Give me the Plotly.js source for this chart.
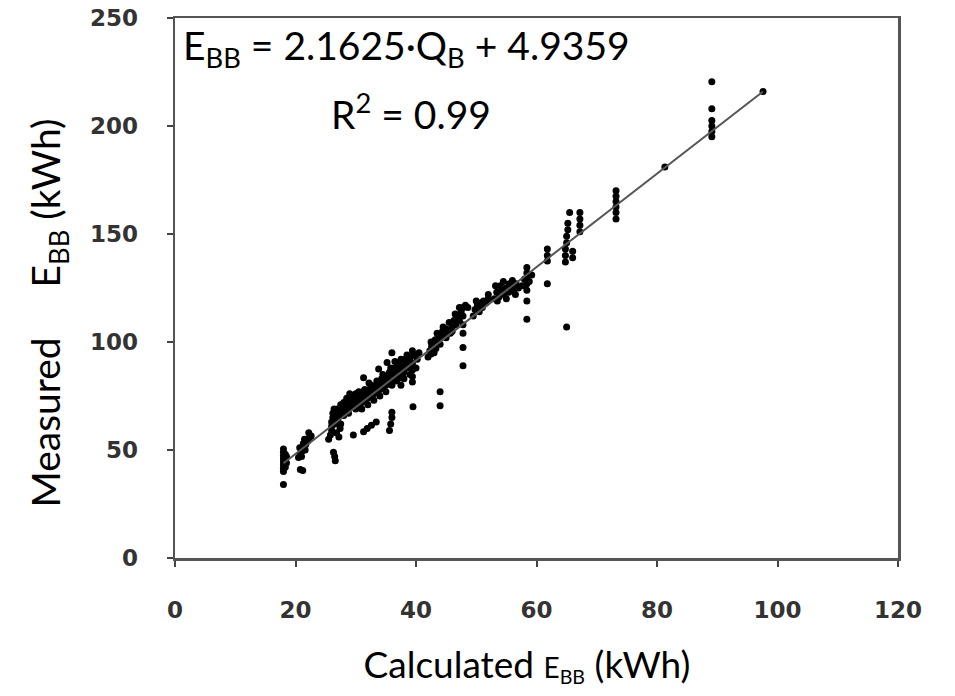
<!DOCTYPE html>
<html>
<head>
<meta charset="utf-8">
<script src="https://cdn.plot.ly/plotly-3.0.1.min.js"></script>
<style>html,body{margin:0;padding:0;background:#fff}#chart{width:955px;height:696px}</style>
</head>
<body>
<div id="chart"></div>
<script>
// Calculated E_BB (kWh)
const calcX = [
 18.0,18.0,18.0,18.0,18.0,18.0,18.0,18.0,18.3,18.3,18.3,18.0,18.5,18.5,
 20.5,20.8,21.1,21.4,21.7,22.0,22.3,22.6,21.0,21.6,20.8,21.2,21.5,22.2,20.7,21.3,
 25.5,25.8,26.0,26.0,26.0,26.2,26.2,26.4,26.6,26.8,27.0,27.2,27.5,27.5,27.8,28.0,28.3,28.6,28.8,29.0,29.3,29.6,26.3,26.6,26.5,27.2,27.4,
 28.0,28.5,29.0,27.5,27.0,26.5,29.5,30.0,
 30.0,30.0,30.3,30.6,31.0,31.0,31.4,31.7,32.0,32.0,32.3,32.7,33.0,33.0,33.4,33.7,34.0,34.0,34.3,34.6,35.0,35.0,31.3,33.8,35.2,36.0,32.2,30.5,
 31.5,32.5,33.5,34.5,33.0,34.0,35.0,32.0,31.0,
 27.3,27.8,28.2,28.7,29.2,29.8,30.3,30.8,31.2,31.8,32.3,32.8,33.3,33.8,34.3,34.8,35.5,36.3,37.3,38.3,39.0,36.7,35.8,37.8,
 29.6,31.3,31.9,32.6,33.4,35.6,35.8,36.0,36.0,39.5,44.0,44.0,
 35.3,35.6,35.9,36.2,36.5,36.8,37.0,37.2,37.6,37.9,38.2,38.5,38.8,39.1,39.4,39.4,39.4,39.4,39.4,39.8,40.2,40.5,38.0,37.5,
 36.5,37.5,38.5,36.0,37.0,38.0,39.0,40.0,
 42.0,42.3,42.6,42.9,43.2,43.5,43.8,44.1,44.4,42.5,43.3,44.7,45.0,
 42.5,43.5,44.5,45.5,46.5,47.2,44.0,45.0,46.0,43.0,
 45.7,46.0,46.3,46.6,46.9,47.2,47.5,47.8,47.8,47.8,47.8,48.2,48.6,47.8,47.8,
 49.5,49.8,50.2,50.5,50.8,51.2,51.6,52.0,50.0,51.0,52.0,
 53.0,53.4,53.8,54.2,54.6,55.0,55.4,55.8,56.2,56.6,57.0,53.2,54.5,56.0,53.5,55.0,56.5,54.0,55.5,
 57.6,58.0,58.4,58.4,58.4,58.4,58.4,58.8,59.2,58.4,58.4,
 61.8,61.8,61.8,61.8,
 64.8,64.8,64.8,65.0,65.0,65.2,65.2,65.5,66.0,66.0,67.2,67.2,67.2,67.2,65.0,
 73.2,73.2,73.2,73.2,73.2,73.2,
 81.3,89.1,89.1,89.1,89.1,89.1,89.1,97.6
];
// Measured E_BB (kWh)
const measY = [
 40,41.5,43,44.5,46,47.5,49,50.5,42,45,48,34,44,47,
 46.5,48,49.5,51,52.5,54,55.5,56.5,47,50,41,40.5,55,58,51,53,
 55,57,59,61,63,65,67,69,62,58,64,66,68,62,70,66,69,71,67,70,73,71,49,45,47,56,60,
 72,74,76,71,69,66,75,76,
 72,69,74,71,75,72,73,76,74,77,75,78,76,79,77,80,78,81,82,79,83,80,83.5,87.5,90.5,95,81,77,
 78,80,82,85,73,75,77,71,69,
 67,68,71,73,72,74,72,75,77,74,78,76,80,78,83,81,85,87,88,90,89,82,88,84,
 57,58.5,60,61.5,63,59,62,65,67.5,70,77,70.5,
 84,86,82,85,88,84,87,90,86,89,92,88,91,93,96,90,87,84,81.5,94,92,95,83,80,
 91,92,94,80,83,86,85,88,
 93,96,98,100,101,99,103,102,105,94.5,97,103.5,106,
 100,104,107,109,113,116,99,102,105,95,
 104,107,110,108,112,110,114,116,112,108,104,117,116,97.5,89,
 112,115,117,114,118,119,118,120,119,116,122,
 120,123,121,124,122,125,123,126,124,127,125,126,128,128.5,119,120,122,126,127,
 126,129,124,127,130,132,134.5,128,131,119,110.5,
 137.5,140,143,127,
 137,140,143,146,149,152,155,160,139,142,151,154,157,160,107,
 157,160,162.5,165,167.5,170,
 181,220.5,208,195,197.5,200,202.5,216
];
// Linear trendline end points (E_BB = 2.1625·Q_B + 4.9359)
const trendX = [18.0, 97.6];
const trendY = [43.86, 216.0];
const xTicks = [0, 20, 40, 60, 80, 100, 120];
const yTicks = [0, 50, 100, 150, 200, 250];

const traces = [
  {x: calcX, y: measY, type: 'scatter', mode: 'markers',
   marker: {color: '#000', size: 7, symbol: 'circle'}, hoverinfo: 'x+y'},
  {x: trendX, y: trendY, type: 'scatter', mode: 'lines',
   line: {color: '#555', width: 2}, hoverinfo: 'skip'}
];

const tickFont = {family: 'DejaVu Sans', size: 23, color: '#333', weight: 'bold'};
const titleFont = {family: 'Lato', size: 39, color: '#000'};

const layout = {
  width: 955, height: 696,
  margin: {l: 175, r: 57, t: 18, b: 138},
  paper_bgcolor: '#fff', plot_bgcolor: '#fff',
  showlegend: false,
  font: {family: 'Lato'},
  xaxis: {
    range: [0, 120], tickvals: xTicks, ticktext: xTicks.map(String),
    ticks: 'outside', ticklen: 6, tickwidth: 2, tickcolor: '#444',
    showline: true, linecolor: '#555', linewidth: 2.5, mirror: true,
    showgrid: false, zeroline: false, tickfont: tickFont,
    ticklabelstandoff: 24,
    title: {text: 'Calculated <span style="font-size:28px">E<sub>BB</sub></span> (kWh)&nbsp;&nbsp;', font: {family: 'Lato', size: 37, color: '#000'}, standoff: 30}
  },
  yaxis: {
    range: [0, 250], tickvals: yTicks, ticktext: yTicks.map(String),
    ticks: 'outside', ticklen: 6, tickwidth: 2, tickcolor: '#444',
    showline: true, linecolor: '#555', linewidth: 2.5, mirror: true,
    showgrid: false, zeroline: false, tickfont: tickFont,
    ticklabelstandoff: 24,
    title: {text: 'Measured &nbsp;&nbsp;&nbsp;&nbsp;E<sub>BB</sub> (kWh)&nbsp;&nbsp;&nbsp;&nbsp;&nbsp;', font: titleFont, standoff: 17}
  },
  annotations: [
    {xref: 'paper', yref: 'paper', x: 0.008, y: 0.944, xanchor: 'left', yanchor: 'middle',
     text: 'E<sub>BB</sub> = 2.1625·Q<sub>B</sub> + 4.9359', showarrow: false,
     font: {family: 'Lato', size: 39, color: '#000'}},
    {xref: 'paper', yref: 'paper', x: 0.326, y: 0.826, xanchor: 'center', yanchor: 'middle',
     text: 'R<sup>2</sup> = 0.99', showarrow: false,
     font: {family: 'Lato', size: 39, color: '#000'}}
  ]
};

Plotly.newPlot('chart', traces, layout, {displayModeBar: false, staticPlot: true});
</script>
</body>
</html>
